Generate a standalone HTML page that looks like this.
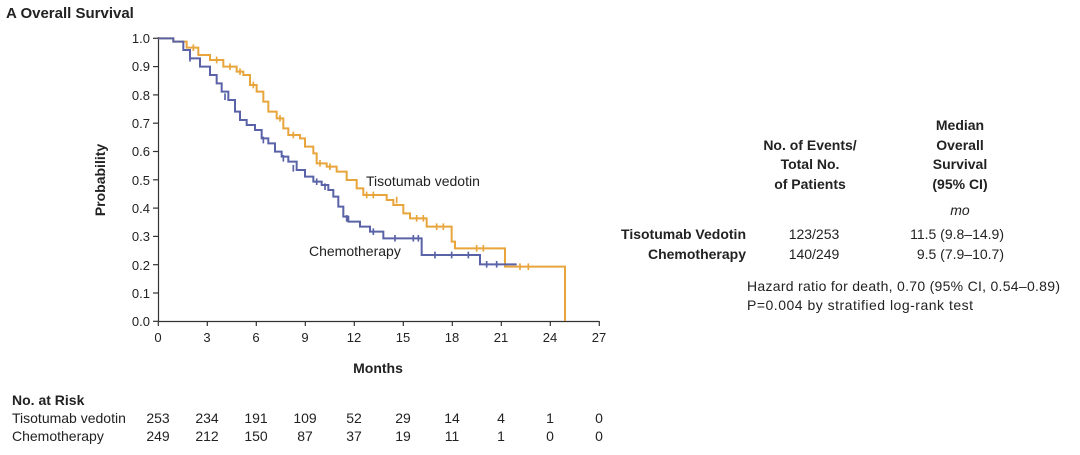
<!DOCTYPE html>
<html><head><meta charset="utf-8"><style>
body{margin:0;background:#fff;width:1080px;height:450px;overflow:hidden}
svg{font-family:"Liberation Sans",sans-serif;fill:#222}
</style></head><body>
<svg width="1080" height="450" viewBox="0 0 1080 450">
<text x="6" y="18" font-size="15" font-weight="bold">A  Overall Survival</text>
<g font-size="13" text-anchor="end">
<text x="150" y="43">1.0</text><text x="150" y="71">0.9</text><text x="150" y="100">0.8</text><text x="150" y="128">0.7</text><text x="150" y="156">0.6</text><text x="150" y="185">0.5</text><text x="150" y="213">0.4</text><text x="150" y="241">0.3</text><text x="150" y="270">0.2</text><text x="150" y="298">0.1</text><text x="150" y="326">0.0</text>
</g>
<g stroke="#333" stroke-width="1.2">
<line x1="158.5" y1="37" x2="158.5" y2="322"/>
<line x1="158" y1="321.5" x2="599" y2="321.5"/>
<line x1="153" y1="38.3" x2="158" y2="38.3"/><line x1="153" y1="66.6" x2="158" y2="66.6"/><line x1="153" y1="94.9" x2="158" y2="94.9"/><line x1="153" y1="123.2" x2="158" y2="123.2"/><line x1="153" y1="151.5" x2="158" y2="151.5"/><line x1="153" y1="179.8" x2="158" y2="179.8"/><line x1="153" y1="208.1" x2="158" y2="208.1"/><line x1="153" y1="236.4" x2="158" y2="236.4"/><line x1="153" y1="264.7" x2="158" y2="264.7"/><line x1="153" y1="293" x2="158" y2="293"/><line x1="153" y1="321.3" x2="158" y2="321.3"/>
<line x1="158.3" y1="321" x2="158.3" y2="326"/><line x1="207.3" y1="321" x2="207.3" y2="326"/><line x1="256.3" y1="321" x2="256.3" y2="326"/><line x1="305.3" y1="321" x2="305.3" y2="326"/><line x1="354.3" y1="321" x2="354.3" y2="326"/><line x1="403.3" y1="321" x2="403.3" y2="326"/><line x1="452.3" y1="321" x2="452.3" y2="326"/><line x1="501.3" y1="321" x2="501.3" y2="326"/><line x1="550.3" y1="321" x2="550.3" y2="326"/><line x1="599.3" y1="321" x2="599.3" y2="326"/>
</g>
<g font-size="13" text-anchor="middle">
<text x="158" y="342">0</text><text x="207" y="342">3</text><text x="256" y="342">6</text><text x="305" y="342">9</text><text x="354" y="342">12</text><text x="403" y="342">15</text><text x="452" y="342">18</text><text x="501" y="342">21</text><text x="550" y="342">24</text><text x="599" y="342">27</text>
</g>
<text x="378" y="373" font-size="14" font-weight="bold" text-anchor="middle">Months</text>
<text transform="translate(105,180) rotate(-90)" font-size="14" font-weight="bold" text-anchor="middle">Probability</text>
<g transform="translate(140,25) scale(0.33333)" fill="none" stroke-width="6">
<path stroke="#e8a53c" d="M55,40 H100 V50 H140 V68 H175 V90 H210 V105 H250 V125 H290 V140 H310 V150 H330 V180 H350 V200 H370 V230 H385 V260 H410 V280 H430 V310 H445 V330 H480 V340 H495 V365 H520 V385 H530 V415 H560 V425 H590 V440 H620 V465 H650 V490 H670 V510 H740 V525 H760 V540 H790 V565 H810 V580 H860 V605 H875 V605 H935 V650 H945 V670 H1095 V725 H1275 V888"/>
<path stroke="#e8a53c" stroke-width="5" d="M160,58v20 M230,95v20 M270,115v20 M300,130v20 M340,170v20 M420,270v20 M460,320v20 M540,405v20 M570,415v20 M680,500v20 M700,500v20 M770,515v20 M830,570v20 M850,570v20 M890,595v20 M910,595v20 M1010,660v20 M1030,660v20 M1140,715v20 M1165,715v20"/>
<path stroke="#5a63a8" d="M55,40 H100 V50 H130 V75 H150 V100 H180 V125 H210 V150 H230 V175 H245 V200 H265 V225 H285 V260 H300 V285 H320 V300 H345 V315 H365 V340 H385 V355 H405 V380 H425 V395 H445 V410 H470 V435 H495 V455 H520 V470 H545 V480 H565 V495 H580 V515 H595 V545 H610 V575 H625 V590 H660 V605 H690 V620 H730 V640 H845 V690 H1020 V718 H1130"/>
<path stroke="#5a63a8" stroke-width="5" d="M150,90v20 M255,205v20 M370,335v20 M430,390v20 M460,420v20 M530,460v20 M555,475v20 M620,570v20 M700,610v20 M765,630v20 M820,630v20 M835,630v20 M885,680v20 M935,680v20 M985,680v20 M1040,708v20 M1070,708v20"/>
</g>
<text x="366" y="186" font-size="14">Tisotumab vedotin</text>
<text x="309" y="256" font-size="14">Chemotherapy</text>
<g font-size="14" font-weight="bold" text-anchor="middle">
<text x="810" y="150">No. of Events/</text><text x="810" y="169">Total No.</text><text x="810" y="189">of Patients</text>
<text x="960" y="130">Median</text><text x="960" y="150">Overall</text><text x="960" y="169">Survival</text><text x="960" y="189">(95% CI)</text>
</g>
<text x="960" y="215" font-size="14" font-style="italic" text-anchor="middle">mo</text>
<g font-size="14" font-weight="bold" text-anchor="end"><text x="746" y="239">Tisotumab Vedotin</text><text x="746" y="259">Chemotherapy</text></g>
<g font-size="14" text-anchor="middle"><text x="814" y="239">123/253</text><text x="814" y="259">140/249</text></g>
<g font-size="14" text-anchor="end"><text x="1004" y="239">11.5 (9.8–14.9)</text><text x="1004" y="259">9.5 (7.9–10.7)</text></g>
<text x="747" y="291" font-size="14" textLength="313">Hazard ratio for death, 0.70 (95% CI, 0.54–0.89)</text>
<text x="747" y="310" font-size="14" textLength="226">P=0.004 by stratified log-rank test</text>
<text x="12" y="405" font-size="14" font-weight="bold">No. at Risk</text>
<g font-size="14"><text x="12" y="423">Tisotumab vedotin</text><text x="12" y="441">Chemotherapy</text></g>
<g font-size="14" text-anchor="middle">
<text x="158" y="423">253</text><text x="207" y="423">234</text><text x="256" y="423">191</text><text x="305" y="423">109</text><text x="354" y="423">52</text><text x="403" y="423">29</text><text x="452" y="423">14</text><text x="501" y="423">4</text><text x="550" y="423">1</text><text x="599" y="423">0</text>
<text x="158" y="441">249</text><text x="207" y="441">212</text><text x="256" y="441">150</text><text x="305" y="441">87</text><text x="354" y="441">37</text><text x="403" y="441">19</text><text x="452" y="441">11</text><text x="501" y="441">1</text><text x="550" y="441">0</text><text x="599" y="441">0</text>
</g>
</svg>
</body></html>
